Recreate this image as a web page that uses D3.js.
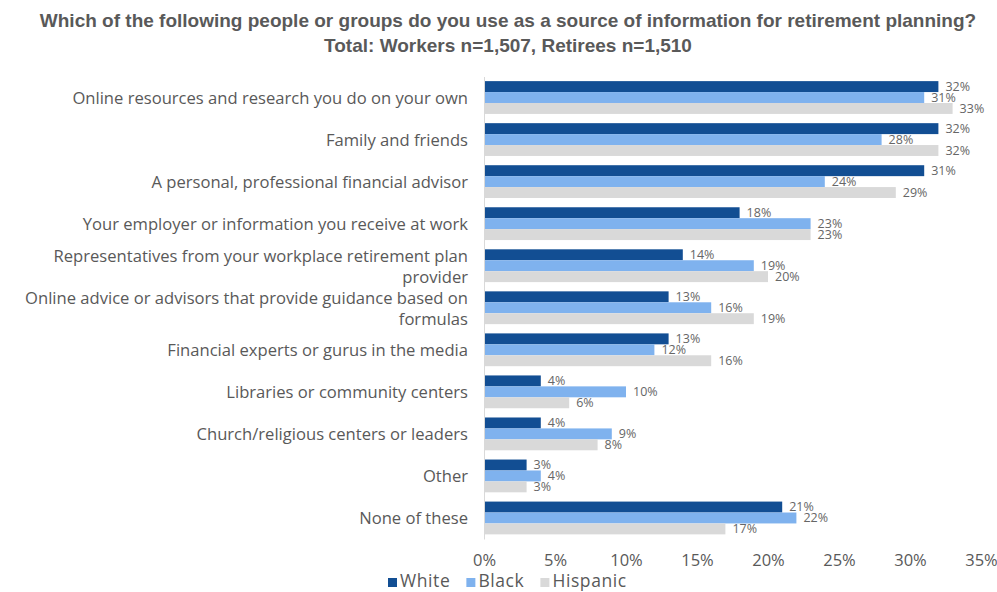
<!DOCTYPE html>
<html>
<head>
<meta charset="utf-8">
<script src="https://cdn.jsdelivr.net/npm/d3@7"></script>
<style>
  body { margin: 0; background: #fff; }
  svg { display: block; font-family: "Open Sans", sans-serif; }
</style>
</head>
<body>
<svg id="chart"></svg>
<script>
let categories = [
  'Online resources and research you do on your own',
  'Family and friends',
  'A personal, professional financial advisor',
  'Your employer or information you receive at work',
  'Representatives from your workplace retirement plan provider',
  'Online advice or advisors that provide guidance based on formulas',
  'Financial experts or gurus in the media',
  'Libraries or community centers',
  'Church/religious centers or leaders',
  'Other',
  'None of these'
];
let seriesNames = ['White', 'Black', 'Hispanic'];
let white    = [32, 32, 31, 18, 14, 13, 13, 4, 4, 3, 21];
let black    = [31, 28, 24, 23, 19, 16, 12, 10, 9, 4, 22];
let hispanic = [33, 32, 29, 23, 20, 19, 16, 6, 8, 3, 17];
let xTicks = [0, 5, 10, 15, 20, 25, 30, 35];
let colors = ['#124e93', '#7fb2ee', '#d9d9d9'];

let W = 997, H = 592;
let margin = {top: 76.5, right: 16, bottom: 53, left: 484};

let chart = d3.select('#chart')
  .attr('width', W)
  .attr('height', H);

let rows = categories.map(function(c, i) {
  return {cat: c, vals: [white[i], black[i], hispanic[i]]};
});

let xScale = d3.scaleLinear()
  .domain([0, 35])
  .range([margin.left, W - margin.right]);

let yScale = d3.scaleBand()
  .domain(categories)
  .range([margin.top, H - margin.bottom])
  .paddingInner(0.22)
  .paddingOuter(0.11);

let inner = d3.scaleBand()
  .domain(seriesNames)
  .range([0, yScale.bandwidth()]);

// title
chart.append('text')
  .attr('x', 508).attr('y', 27)
  .attr('text-anchor', 'middle')
  .attr('font-family', '"Liberation Sans", Arial, sans-serif')
  .attr('font-weight', 'bold')
  .attr('font-size', 19)
  .attr('fill', '#595959')
  .text('Which of the following people or groups do you use as a source of information for retirement planning?');
chart.append('text')
  .attr('x', 508).attr('y', 52)
  .attr('text-anchor', 'middle')
  .attr('font-family', '"Liberation Sans", Arial, sans-serif')
  .attr('font-weight', 'bold')
  .attr('font-size', 19)
  .attr('fill', '#595959')
  .text('Total: Workers n=1,507, Retirees n=1,510');

// bars
let groups = chart.selectAll('.grp')
  .data(rows)
  .enter().append('g')
  .attr('class', 'grp')
  .attr('transform', function(d) { return 'translate(0,' + yScale(d.cat) + ')'; });

groups.selectAll('rect')
  .data(function(d) { return d.vals.map(function(v, j) { return {v: v, s: seriesNames[j], j: j}; }); })
  .enter().append('rect')
  .attr('x', xScale(0))
  .attr('y', function(d) { return inner(d.s); })
  .attr('width', function(d) { return xScale(d.v) - xScale(0); })
  .attr('height', inner.bandwidth())
  .attr('fill', function(d) { return colors[d.j]; });

groups.selectAll('.lbl')
  .data(function(d) { return d.vals.map(function(v, j) { return {v: v, s: seriesNames[j], j: j}; }); })
  .enter().append('text')
  .attr('class', 'lbl')
  .attr('x', function(d) { return xScale(d.v) + 7; })
  .attr('y', function(d) { return inner(d.s) + inner.bandwidth() / 2; })
  .attr('dy', '0.35em')
  .attr('font-size', 12.5)
  .attr('fill', '#666')
  .text(function(d) { return d.v + '%'; });

// y axis
let yAxis = d3.axisLeft(yScale).tickSize(0).tickPadding(16);
let yG = chart.append('g')
  .attr('transform', 'translate(' + margin.left + ',0)')
  .call(yAxis);
yG.select('.domain').attr('stroke', '#d9d9d9');
yG.selectAll('text')
  .attr('font-size', 16.6)
  .attr('font-family', '"Open Sans", sans-serif')
  .attr('fill', '#595959')
  .call(wrap, 465);

// x axis
let xAxis = d3.axisBottom(xScale)
  .tickValues(xTicks)
  .tickSize(0)
  .tickPadding(15)
  .tickFormat(function(d) { return d + '%'; });
let xG = chart.append('g')
  .attr('transform', 'translate(0,' + (H - margin.bottom) + ')')
  .call(xAxis);
xG.select('.domain').remove();
xG.selectAll('text')
  .attr('font-size', 16.5)
  .attr('font-family', '"Open Sans", sans-serif')
  .attr('fill', '#595959');

// legend
let legend = chart.append('g').attr('transform', 'translate(388,581)');
let lx = 0;
seriesNames.forEach(function(s, j) {
  let g = legend.append('g').attr('transform', 'translate(' + lx + ',0)');
  g.append('rect').attr('x', 0).attr('y', -3).attr('width', 9).attr('height', 9).attr('fill', colors[j]);
  let t = g.append('text').attr('x', 12).attr('y', 6)
    .attr('font-size', 17.5).attr('letter-spacing', 0.6).attr('fill', '#595959').text(s);
  lx += 12 + t.node().getComputedTextLength() + 16;
});

function wrap(text, width) {
  text.each(function() {
    let t = d3.select(this);
    let words = t.text().split(/\s+/);
    let x = t.attr('x');
    let lines = [];
    let line = [];
    t.text(null);
    let tmp = t.append('tspan').attr('x', x);
    words.forEach(function(w) {
      line.push(w);
      tmp.text(line.join(' '));
      if (tmp.node().getComputedTextLength() > width && line.length > 1) {
        line.pop();
        lines.push(line.join(' '));
        line = [w];
      }
    });
    lines.push(line.join(' '));
    tmp.remove();
    let lh = 21;
    let start = -(lines.length - 1) * lh / 2;
    lines.forEach(function(l, i) {
      t.append('tspan')
        .attr('x', x)
        .attr('y', 0)
        .attr('dy', (start + i * lh) + 'px')
        .attr('dominant-baseline', 'central')
        .text(l);
    });
    t.attr('dy', null);
  });
}
</script>
</body>
</html>
